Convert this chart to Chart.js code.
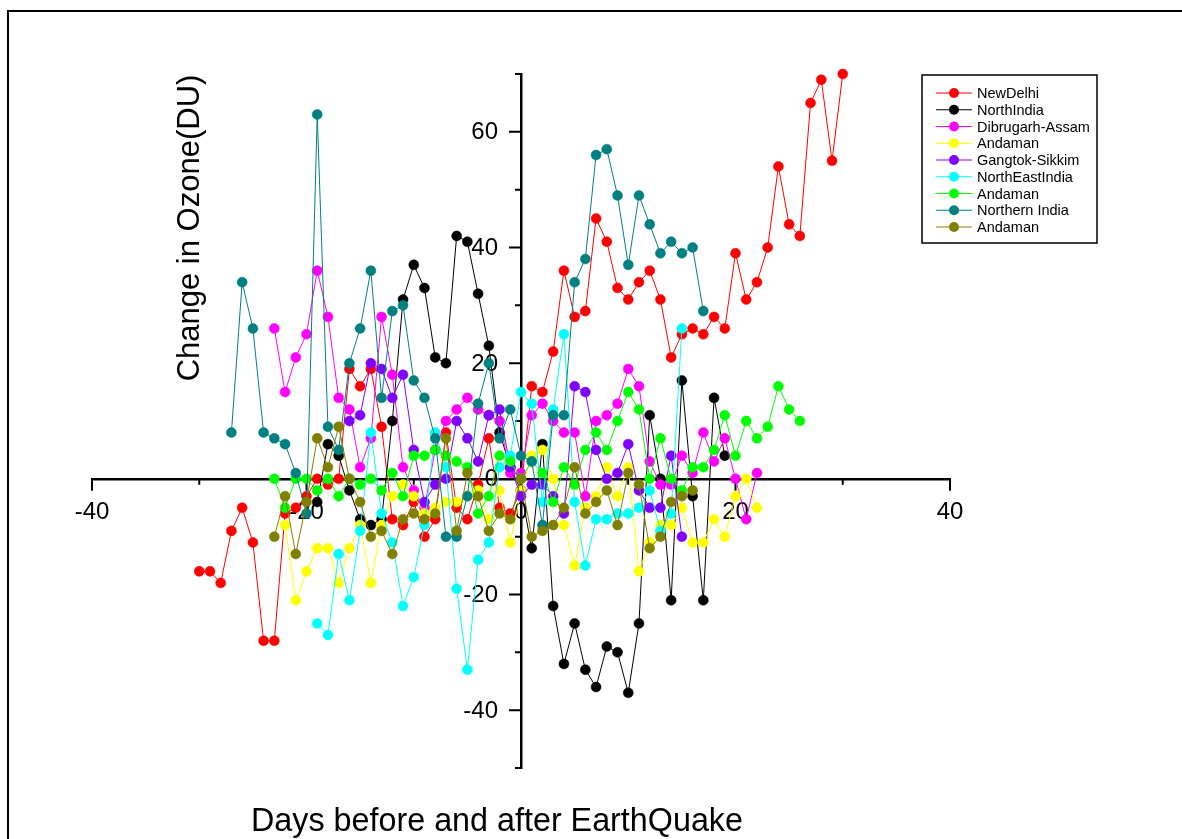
<!DOCTYPE html>
<html>
<head>
<meta charset="utf-8">
<script src="https://cdn.jsdelivr.net/npm/chart.js@4.4.0/dist/chart.umd.min.js"></script>
<style>
  body { margin: 0; background: #fff; }
  canvas { display: block; }
</style>
</head>
<body>
<canvas id="js--chart" width="1182" height="839"></canvas>
<script>
/* data (day offset, change in DU) */

const seriesNames = ['NewDelhi', 'NorthIndia', 'Dibrugarh-Assam', 'Andaman', 'Gangtok-Sikkim',
                     'NorthEastIndia', 'Andaman', 'Northern India', 'Andaman'];
const seriesColors = ['#ff0000', '#000000', '#ff00ff', '#ffff00', '#8000ff',
                      '#00ffff', '#00ff00', '#008080', '#808000'];
const seriesStart = [-30, -19, -23, -22, -16, -19, -23, -27, -23];

const newDelhi = [-16, -16, -18, -9, -5, -11, -28, -28, -6, -5, -3, 0, -1, 0, 19, 16, 19, 9, -7, -8,
                  -4, -10, -7, 8, -5, -7, -1, 7, -5, -6, -2, 16, 15, 22, 36, 28, 29, 45, 41, 33,
                  31, 34, 36, 31, 21, 25, 26, 25, 28, 26, 39, 31, 34, 40, 54, 44, 42, 65, 69, 55, 70];
const northIndia = [-4, 6, 4, -2, -7, -8, -7, 10, 31, 37, 33, 21, 20, 42, 41, 32, 23, 8, 2, -2,
                    -12, 6, -22, -32, -25, -33, -36, -29, -30, -37, -25, 11, 0, -21, 17, -3, -21, 14, 4];
const dibrugarh = [26, 15, 21, 25, 36, 28, 14, 12, 2, 7, 28, 18, 2, -2, -5, 5, 10, 12, 14, 12,
                   11, 10, 1, 1, 11, 13, 10, 8, 8, -3, 10, 11, 13, 19, 16, 3, -1, -1, 4, 1,
                   8, 3, 7, 0, -7, 1];
const andaman1 = [-8, -21, -16, -12, -12, -18, -12, -8, -18, -8, -3, -1, -3, -6, -5, -4, -4, -3, -2, -7,
                  -2, -11, -2, 4, 5, 0, -8, -15, -5, -3, 2, -3, 2, -16, -11, -8, -8, -5, -11, -11,
                  -7, -10, -3, 0, -5];
const gangtok = [10, 11, 20, 19, 14, 18, 5, -4, -1, 0, 10, 7, 3, 11, 12, 2, -3, -1, -1, -3,
                 -6, 16, 15, 5, 0, 1, 6, -2, -5, -5, 4, -10];
const northEast = [-25, -27, -13, -21, -9, 8, -6, -11, -22, -17, -8, 8, 2, -19, -33, -14, -11, 2, 4, 15,
                   13, -4, 12, 25, -4, -15, -7, -7, -6, -6, -5, -2, -9, -6, 26];
const andaman2 = [0, -5, 0, 0, -2, 0, -3, 0, -1, 0, -2, 1, -3, 4, 4, 5, 4, 3, 2, -6,
                  -3, 4, 3, 0, 3, 1, -4, 2, -1, 5, 8, 5, 10, 15, 12, 0, 7, 0, -2, 2,
                  2, 5, 11, 4, 10, 7, 9, 16, 12, 10];
const northernIndia = [8, 34, 26, 8, 7, 6, 1, -6, 63, 9, 5, 20, 26, 36, 14, 29, 30, 17, 14, 7,
                       -10, -10, -3, 13, 20, 7, 12, 4, 3, -8, 11, 11, 34, 38, 56, 57, 49, 37, 49, 44,
                       39, 41, 39, 40, 29];
const andaman3 = [-10, -3, -13, -4, 7, 2, 9, 0, -4, -10, -9, -13, -7, -6, -7, -6, 7, -9, 1, -3,
                  -9, -6, -7, 0, -10, -9, -8, -5, 2, -6, -4, -2, -8, 1, -1, -12, -10, -4, -3, -2];

const seriesValues = [newDelhi, northIndia, dibrugarh, andaman1, gangtok,
                      northEast, andaman2, northernIndia, andaman3];

const xTicks = [-40, -20, 0, 20, 40];
const yTicks = [-40, -20, 0, 20, 40, 60];

const xTitle = 'Days before and after EarthQuake';
const yTitle = 'Change in Ozone(DU)';

const FONT = 'Arial, "Liberation Sans", sans-serif';

/* datasets */

const datasets = seriesValues.map(function(vals, i) {
    return {
        label: seriesNames[i],
        data: vals.map((v, k) => ({ x: seriesStart[i] + k, y: v })),
        borderColor: seriesColors[i],
        backgroundColor: seriesColors[i],
        borderWidth: 1,
        pointRadius: 5,
        pointBorderWidth: 0.5,
        pointBackgroundColor: seriesColors[i],
        pointBorderColor: seriesColors[i],
        tension: 0,
        clip: false,
        order: seriesValues.length - i   // later series on top, like the original
    };
});

// tick marks (long at labelled values, short between) and the y labels left of the centre axis
const axisTicks = {
    id: 'axisTicks',
    beforeDatasetsDraw(chart) {
        const ctx = chart.ctx;
        const xs = chart.scales.x;
        const ys = chart.scales.y;
        const axisX = xs.getPixelForValue(0);
        const axisY = ys.getPixelForValue(0);
        ctx.save();
        ctx.strokeStyle = '#000';
        ctx.lineWidth = 2;
        ctx.beginPath();
        xs.ticks.forEach(function(t) {
            const px = xs.getPixelForValue(t.value);
            const len = xTicks.includes(t.value) ? 12 : 6;
            ctx.moveTo(px, axisY);
            ctx.lineTo(px, axisY + len);
        });
        ys.ticks.forEach(function(t) {
            const py = ys.getPixelForValue(t.value);
            const len = yTicks.includes(t.value) ? 12 : 6;
            ctx.moveTo(axisX - len, py);
            ctx.lineTo(axisX, py);
        });
        ctx.stroke();

        ctx.fillStyle = '#000';
        ctx.font = '24px ' + FONT;
        ctx.textAlign = 'right';
        ctx.textBaseline = 'middle';
        yTicks.forEach(function(v) {
            ctx.fillText(String(v), axisX - 23, ys.getPixelForValue(v) + 1);
        });
        ctx.restore();
    }
};

// frame, axis titles and boxed legend
const decorations = {
    id: 'decorations',
    afterDraw(chart) {
        const ctx = chart.ctx;
        const area = chart.chartArea;
        ctx.save();

        ctx.strokeStyle = '#000';
        ctx.lineWidth = 2;
        ctx.strokeRect(8, 11, 1200, 900);

        ctx.fillStyle = '#000';
        ctx.font = '32.3px ' + FONT;
        ctx.textAlign = 'center';
        ctx.textBaseline = 'middle';
        ctx.fillText(xTitle, 497, 822);

        ctx.save();
        ctx.translate(190, 228);
        ctx.rotate(-Math.PI / 2);
        ctx.font = '31px ' + FONT;
        ctx.fillText(yTitle, 0, 0);
        ctx.restore();

        // legend
        const lx = area.right - 28;
        const ly = 75;
        ctx.strokeStyle = '#000';
        ctx.lineWidth = 1.5;
        ctx.strokeRect(lx, ly, 175, 168);
        ctx.font = '14.5px ' + FONT;
        ctx.textAlign = 'left';
        chart.data.datasets.forEach(function(ds, i) {
            const y = ly + 18 + i * 16.75;
            ctx.strokeStyle = ds.borderColor;
            ctx.lineWidth = 1;
            ctx.beginPath();
            ctx.moveTo(lx + 14, y);
            ctx.lineTo(lx + 50, y);
            ctx.stroke();
            ctx.fillStyle = ds.borderColor;
            ctx.beginPath();
            ctx.arc(lx + 32, y, 5, 0, Math.PI * 2);
            ctx.fill();
            ctx.fillStyle = '#000';
            ctx.fillText(ds.label, lx + 55, y + 1);
        });
        ctx.restore();
    }
};

new Chart(document.getElementById('js--chart'), {
    type: 'line',
    data: { datasets: datasets },
    options: {
        responsive: false,
        animation: false,
        devicePixelRatio: 1,
        layout: { padding: { left: 92, right: 232, top: 74, bottom: 71 } },
        plugins: {
            legend: { display: false },
            tooltip: { enabled: false }
        },
        scales: {
            x: {
                type: 'linear',
                position: { y: 0 },
                min: -40,
                max: 40,
                grid: { display: false, drawTicks: false },
                border: { display: true, color: '#000', width: 2.5 },
                ticks: {
                    stepSize: 10,
                    autoSkip: false,
                    maxRotation: 0,
                    padding: 19,
                    color: '#000',
                    font: { family: FONT, size: 24 },
                    callback: v => xTicks.includes(v) ? v : ''
                }
            },
            y: {
                type: 'linear',
                position: { x: 0 },
                min: -50,
                max: 70,
                grid: { display: false, drawTicks: false },
                border: { display: true, color: '#000', width: 2.5 },
                ticks: {
                    stepSize: 10,
                    autoSkip: false,
                    display: false
                }
            }
        }
    },
    plugins: [axisTicks, decorations]
});
</script>
</body>
</html>
